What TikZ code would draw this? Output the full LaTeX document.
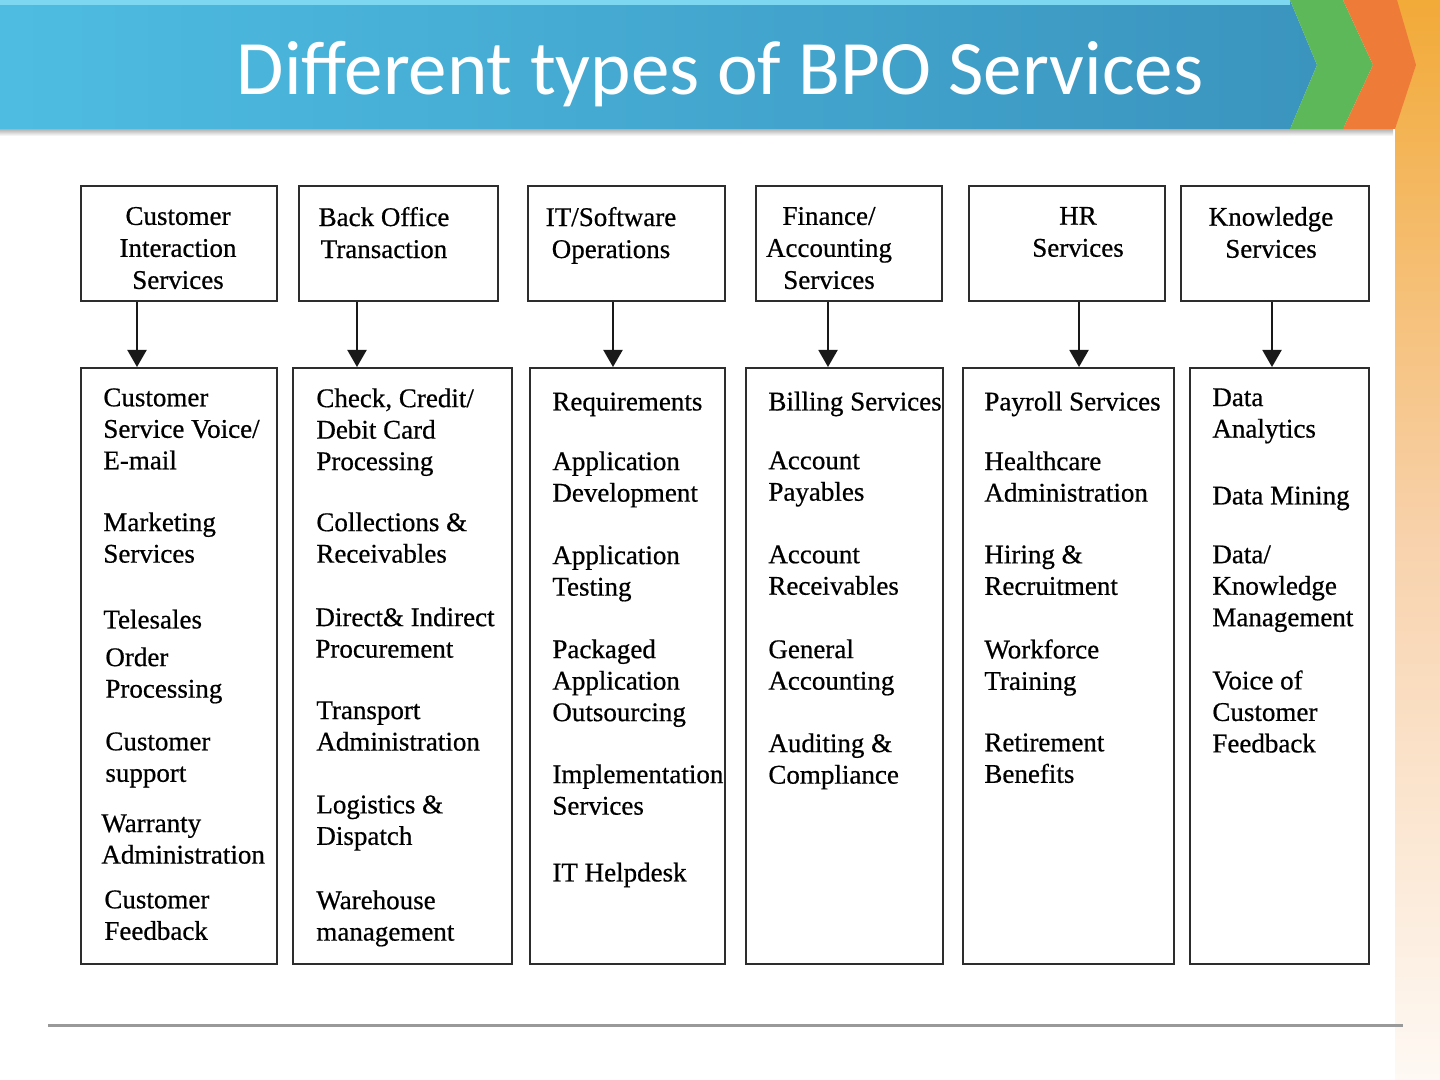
\documentclass[tikz,border=0pt]{standalone}
\usepackage{fontspec}
\setmainfont{Liberation Serif}[FakeBold=0.6]
\newfontfamily\titlefont{Carlito}
\usetikzlibrary{arrows.meta}
\definecolor{bannerL}{RGB}{78,188,225}
\definecolor{bannerR}{RGB}{58,148,190}
\definecolor{bannerTop}{RGB}{125,215,240}
\definecolor{chevGreen}{RGB}{92,184,88}
\definecolor{chevOrange}{RGB}{238,124,56}
\definecolor{stripTop}{RGB}{242,170,56}
\definecolor{stripMid}{RGB}{248,210,172}
\definecolor{stripBot}{RGB}{254,249,244}
\definecolor{boxline}{RGB}{45,45,45}
\tikzset{
	headbox/.style={draw=boxline, line width=1.2pt, rectangle, anchor=north west, inner sep=0pt},
	listbox/.style={draw=boxline, line width=1.2pt, rectangle, anchor=north west, inner sep=0pt, minimum height=298pt},
	headtext/.style={anchor=north, yshift=9.2pt, align=center, inner sep=0pt, font=\fontsize{13.5}{16}\selectfont, execute at begin node=\strut},
	itemtext/.style={anchor=north west, yshift=9.5pt, align=left, inner sep=0pt, font=\fontsize{13.5}{15.75}\selectfont, execute at begin node=\strut},
	conn/.style={draw=black!90, line width=1pt, -{Triangle[width=9.5pt,length=8.5pt]}}
}
\begin{document}
\begin{tikzpicture}[x=0.5pt, y=-0.5pt]
				\useasboundingbox (0,0) rectangle (1440,1080);
				%	nền
				\fill[white] (0,0) rectangle (1440,1080);
				\shade[top color=stripTop, bottom color=stripBot, middle color=stripMid] (1395,0) rectangle (1440,1080);
				%	băng tiêu đề
				\shade[top color=black!35, bottom color=white] (0,128) rectangle (1393,136);
				\shade[left color=bannerL, right color=bannerR] (0,0) -- (1290,0) -- (1317,65) -- (1290,129) -- (0,129) -- cycle;
				\fill[bannerTop] (0,0) rectangle (1290,5);
				\fill[chevGreen] (1290,0) -- (1343,0) -- (1373,65) -- (1343,129) -- (1290,129) -- (1317,65) -- cycle;
				\fill[chevOrange] (1343,0) -- (1397,0) -- (1416,65) -- (1395,129) -- (1343,129) -- (1373,65) -- cycle;
				\node[white, font=\titlefont\fontsize{38.5}{44}\selectfont, anchor=base, inner sep=0pt] (title) at (720,95) {Different types of BPO Services};
				
				%	ô trên
				\node[headbox, minimum width=98pt, minimum height=57.5pt] (t1) at (80,185) {};
				\node[headbox, minimum width=99.5pt, minimum height=57.5pt] (t2) at (298,185) {};
				\node[headbox, minimum width=98.5pt, minimum height=57.5pt] (t3) at (527,185) {};
				\node[headbox, minimum width=93pt, minimum height=57.5pt] (t4) at (755,185) {};
				\node[headbox, minimum width=98pt, minimum height=57.5pt] (t5) at (968,185) {};
				\node[headbox, minimum width=94pt, minimum height=57.5pt] (t6) at (1180,185) {};
				\node[headtext] (h1) at (178,225) {Customer\\Interaction\\Services};
				\node[headtext] (h2) at (384,225) {Back Office\\Transaction};
				\node[headtext] (h3) at (611,225) {IT/Software\\Operations};
				\node[headtext] (h4) at (829,225) {Finance/\\Accounting\\Services};
				\node[headtext] (h5) at (1078,225) {HR\\Services};
				\node[headtext] (h6) at (1271,225) {Knowledge\\Services};
				
				%	ô dưới
				\node[listbox, minimum width=98pt] (b1) at (80,367) {};
				\node[listbox, minimum width=109.5pt] (b2) at (292,367) {};
				\node[listbox, minimum width=97.5pt] (b3) at (529,367) {};
				\node[listbox, minimum width=98.5pt] (b4) at (745,367) {};
				\node[listbox, minimum width=105.5pt] (b5) at (962,367) {};
				\node[listbox, minimum width=89.5pt] (b6) at (1189,367) {};
				
				%	mũi tên
				\coordinate (a1) at (137,0);
				\coordinate (a2) at (357,0);
				\coordinate (a3) at (613,0);
				\coordinate (a4) at (828,0);
				\coordinate (a5) at (1079,0);
				\coordinate (a6) at (1272,0);
				\foreach \i in {1,...,6}
					\draw[conn] (t\i.south -| a\i) -- (b\i.north -| a\i);
				
				%	cột 1
				\node[itemtext] (c1a) at (103,407) {Customer\\Service Voice/\\E-mail};
				\node[itemtext] (c1b) at (103,531) {Marketing\\Services};
				\node[itemtext] (c1c) at (103,625) {Telesales};
				\node[itemtext] (c1d) at (105,666) {Order\\Processing};
				\node[itemtext] (c1e) at (105,751) {Customer\\support};
				\node[itemtext] (c1f) at (101,833) {Warranty\\Administration};
				\node[itemtext] (c1g) at (104,909) {Customer\\Feedback};
				%	cột 2
				\node[itemtext] (c2a) at (316,407) {Check, Credit/\\Debit Card\\Processing};
				\node[itemtext] (c2b) at (316,531) {Collections \&\\Receivables};
				\node[itemtext] (c2c) at (315,626) {Direct\& Indirect\\Procurement};
				\node[itemtext] (c2d) at (316,720) {Transport\\Administration};
				\node[itemtext] (c2e) at (316,814) {Logistics \&\\Dispatch};
				\node[itemtext] (c2f) at (316,909) {Warehouse\\management};
				%	cột 3
				\node[itemtext] (c3a) at (552,407) {Requirements};
				\node[itemtext] (c3b) at (552,470) {Application\\Development};
				\node[itemtext] (c3c) at (552,564) {Application\\Testing};
				\node[itemtext] (c3d) at (552,658) {Packaged\\Application\\Outsourcing};
				\node[itemtext] (c3e) at (552,783) {Implementation\\Services};
				\node[itemtext] (c3f) at (552,878) {IT Helpdesk};
				%	cột 4
				\node[itemtext] (c4a) at (768,407) {Billing Services};
				\node[itemtext] (c4b) at (768,470) {Account\\Payables};
				\node[itemtext] (c4c) at (768,564) {Account\\Receivables};
				\node[itemtext] (c4d) at (768,658) {General\\Accounting};
				\node[itemtext] (c4e) at (768,752) {Auditing \&\\Compliance};
				%	cột 5
				\node[itemtext] (c5a) at (984,407) {Payroll Services};
				\node[itemtext] (c5b) at (984,470) {Healthcare\\Administration};
				\node[itemtext] (c5c) at (984,564) {Hiring \&\\Recruitment};
				\node[itemtext] (c5d) at (984,658) {Workforce\\Training};
				\node[itemtext] (c5e) at (984,752) {Retirement\\Benefits};
				%	cột 6
				\node[itemtext] (c6a) at (1212,407) {Data\\Analytics};
				\node[itemtext] (c6b) at (1212,501) {Data Mining};
				\node[itemtext] (c6c) at (1212,564) {Data/\\Knowledge\\Management};
				\node[itemtext] (c6d) at (1212,689) {Voice of\\Customer\\Feedback};
				
				%	đường dưới
				\draw[black!40, line width=1.5pt] (48,1025) -- (1403,1025);
			\end{tikzpicture}
\end{document}
